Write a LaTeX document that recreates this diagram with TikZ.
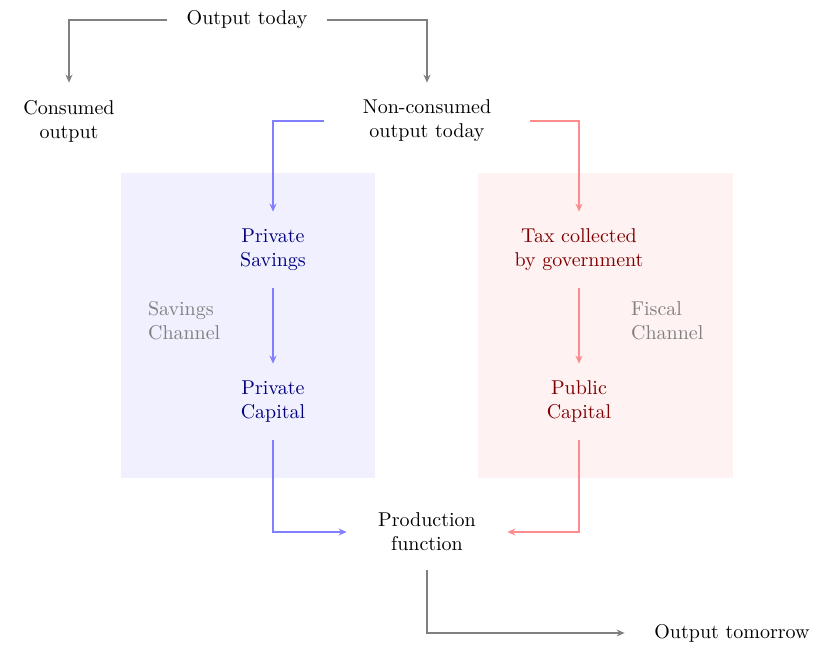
\documentclass[tikz,border=0pt]{standalone}
\usetikzlibrary{arrows.meta}
\begin{document}
\begin{tikzpicture}[
    x=0.5pt, y=-0.5pt,
    stage/.style={minimum width=80pt, minimum height=38pt, inner sep=2pt, align=center},
    privnode/.style={stage, text=blue!50!black},
    pubnode/.style={stage, text=red!50!black},
    channel/.style={align=left, text=black!50},
    flow/.style={-{Stealth[length=4pt,width=3.5pt]}, line width=0.6pt, black!50},
    privflow/.style={flow, blue!50},
    pubflow/.style={flow, red!45},
  ]
    \useasboundingbox (0,0) rectangle (830,657);
    % channel panels
    \fill[blue!6] (121,173) rectangle (375,478);
    \fill[red!5] (478,173) rectangle (733,478);

    \node[stage] (today) at (247,20) {Output today};
    \node[stage] (consumed) at (69,121) {Consumed\\output};
    \node[stage, minimum width=103pt] (saved) at (427,121) {Non-consumed\\output today};
    \node[privnode] (psav) at (273,250) {Private\\Savings};
    \node[privnode] (pcap) at (273,402) {Private\\Capital};
    \node[pubnode] (tax) at (579,250) {Tax collected\\by government};
    \node[pubnode] (gcap) at (579,402) {Public\\Capital};
    \node[channel, anchor=west] (schan) at (141,321) {Savings\\Channel};
    \node[channel, anchor=west] (fchan) at (624,321) {Fiscal\\Channel};
    \node[stage] (prod) at (427,532) {Production\\function};
    \node[stage, minimum width=107pt] (tomorrow) at (732,633) {Output tomorrow};

    \draw[flow] (today.west) -| (consumed.north);
    \draw[flow] (today.east) -| (saved.north);
    \draw[privflow] (saved.west) -| (psav.north);
    \draw[pubflow] (saved.east) -| (tax.north);
    \draw[privflow] (psav) -- (pcap);
    \draw[pubflow] (tax) -- (gcap);
    \draw[privflow] (pcap.south) |- (prod.west);
    \draw[pubflow] (gcap.south) |- (prod.east);
    \draw[flow] (prod.south) |- (tomorrow.west);
\end{tikzpicture}
\end{document}
